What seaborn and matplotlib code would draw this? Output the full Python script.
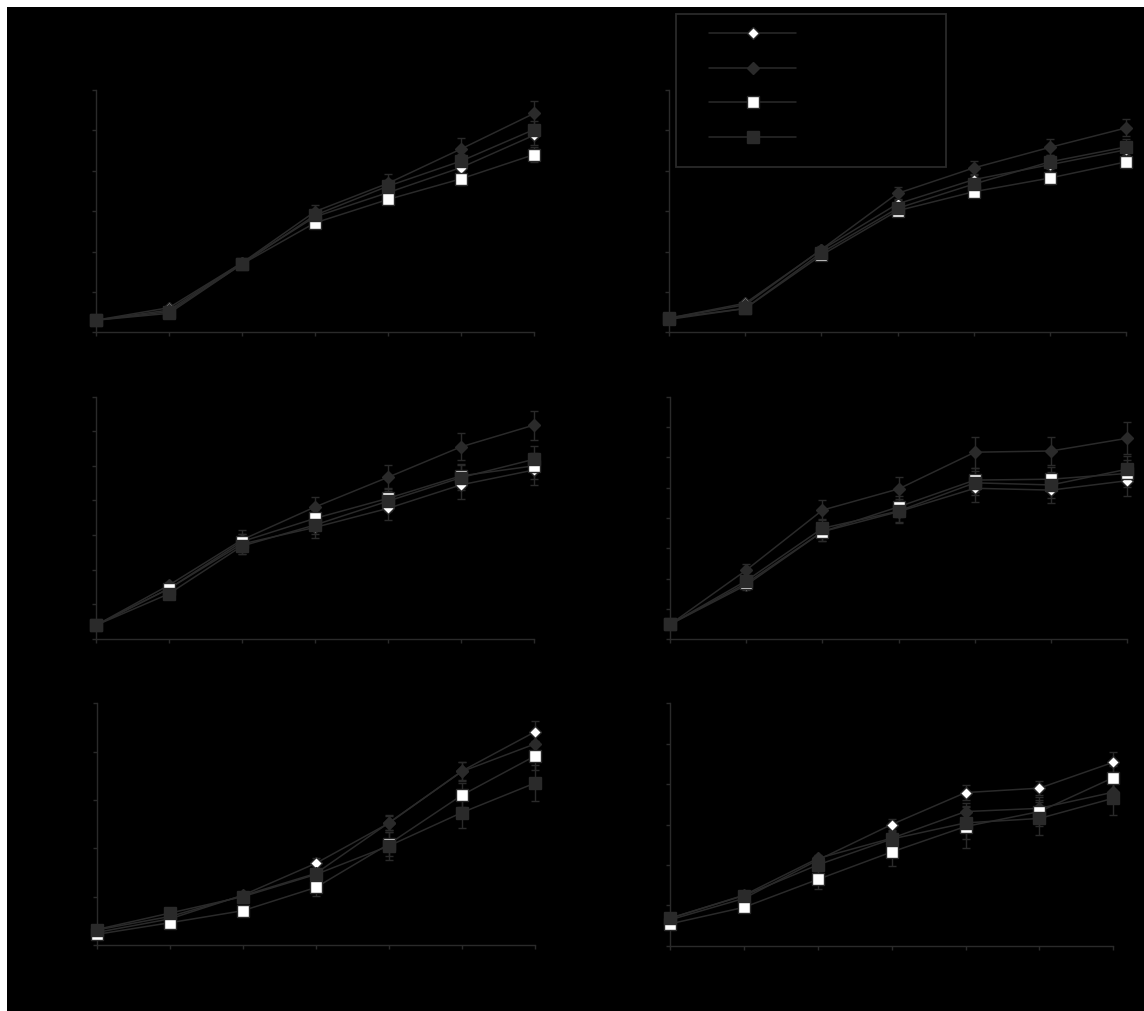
import matplotlib
matplotlib.use("Agg")
import matplotlib.pyplot as plt
from matplotlib.patches import Rectangle
import numpy as np
import pandas as pd
import seaborn as sns

# Sampling days shared by every panel
days = [0, 1, 2, 3, 4, 5, 6]

# Treatment groups and their marker styles
groups = ["Control", "Treatment 1", "Treatment 2", "Treatment 3"]

# Panel (a)
a_ctrl = [0.30, 0.61, 1.72, 2.86, 3.46, 4.08, 4.88]
a_t1 = [0.30, 0.55, 1.72, 2.99, 3.69, 4.54, 5.42]
a_t2 = [0.30, 0.51, 1.69, 2.71, 3.29, 3.80, 4.40]
a_t3 = [0.30, 0.47, 1.69, 2.90, 3.62, 4.24, 5.02]
a_ctrl_sd = [0.03, 0.04, 0.08, 0.10, 0.15, 0.20, 0.25]
a_t1_sd = [0.03, 0.04, 0.08, 0.15, 0.24, 0.26, 0.31]
a_t2_sd = [0.03, 0.04, 0.07, 0.10, 0.12, 0.15, 0.18]
a_t3_sd = [0.03, 0.04, 0.08, 0.12, 0.15, 0.18, 0.22]

# Panel (b)
b_ctrl = [0.35, 0.72, 2.04, 3.18, 3.78, 4.15, 4.52]
b_t1 = [0.35, 0.68, 2.05, 3.44, 4.07, 4.58, 5.06]
b_t2 = [0.32, 0.59, 1.91, 3.01, 3.48, 3.82, 4.22]
b_t3 = [0.35, 0.59, 1.97, 3.07, 3.67, 4.22, 4.59]
b_ctrl_sd = [0.03, 0.05, 0.08, 0.12, 0.15, 0.18, 0.20]
b_t1_sd = [0.03, 0.05, 0.08, 0.16, 0.17, 0.20, 0.21]
b_t2_sd = [0.03, 0.04, 0.07, 0.10, 0.12, 0.14, 0.16]
b_t3_sd = [0.03, 0.04, 0.08, 0.12, 0.15, 0.17, 0.20]

# Panel (c)
c_ctrl = [0.39, 1.45, 2.74, 3.22, 3.77, 4.45, 4.88]
c_t1 = [0.39, 1.55, 2.86, 3.81, 4.67, 5.55, 6.18]
c_t2 = [0.39, 1.45, 2.81, 3.48, 4.06, 4.71, 5.00]
c_t3 = [0.39, 1.30, 2.68, 3.29, 3.98, 4.66, 5.19]
c_ctrl_sd = [0.03, 0.10, 0.30, 0.30, 0.34, 0.40, 0.43]
c_t1_sd = [0.03, 0.10, 0.28, 0.28, 0.34, 0.39, 0.42]
c_t2_sd = [0.03, 0.08, 0.22, 0.25, 0.30, 0.35, 0.38]
c_t3_sd = [0.03, 0.08, 0.22, 0.25, 0.30, 0.35, 0.38]

# Panel (d)
d_ctrl = [0.49, 1.79, 3.55, 4.21, 4.98, 4.92, 5.23]
d_t1 = [0.49, 2.28, 4.26, 4.96, 6.17, 6.21, 6.63]
d_t2 = [0.49, 1.85, 3.55, 4.37, 5.25, 5.28, 5.47]
d_t3 = [0.49, 1.93, 3.66, 4.23, 5.16, 5.09, 5.61]
d_ctrl_sd = [0.03, 0.15, 0.30, 0.35, 0.44, 0.44, 0.50]
d_t1_sd = [0.03, 0.20, 0.33, 0.39, 0.51, 0.47, 0.53]
d_t2_sd = [0.03, 0.15, 0.30, 0.35, 0.40, 0.40, 0.45]
d_t3_sd = [0.03, 0.15, 0.30, 0.40, 0.40, 0.42, 0.45]

# Panel (e)
e_ctrl = [0.26, 0.54, 1.03, 1.69, 2.52, 3.60, 4.41]
e_t1 = [0.31, 0.59, 1.02, 1.48, 2.53, 3.59, 4.16]
e_t2 = [0.22, 0.46, 0.71, 1.19, 2.09, 3.10, 3.91]
e_t3 = [0.32, 0.66, 1.00, 1.46, 2.05, 2.74, 3.35]
e_ctrl_sd = [0.02, 0.03, 0.05, 0.10, 0.15, 0.18, 0.22]
e_t1_sd = [0.02, 0.03, 0.05, 0.10, 0.15, 0.19, 0.20]
e_t2_sd = [0.02, 0.03, 0.05, 0.18, 0.25, 0.25, 0.30]
e_t3_sd = [0.02, 0.03, 0.05, 0.12, 0.29, 0.31, 0.37]

# Panel (f)
f_ctrl = [0.64, 1.17, 2.12, 3.00, 3.79, 3.90, 4.54]
f_t1 = [0.68, 1.25, 2.16, 2.66, 3.32, 3.40, 3.80]
f_t2 = [0.54, 0.95, 1.64, 2.32, 2.95, 3.32, 4.16]
f_t3 = [0.68, 1.24, 2.00, 2.64, 3.04, 3.15, 3.65]
f_ctrl_sd = [0.03, 0.05, 0.08, 0.13, 0.19, 0.18, 0.25]
f_t1_sd = [0.03, 0.05, 0.08, 0.15, 0.20, 0.20, 0.25]
f_t2_sd = [0.03, 0.10, 0.24, 0.34, 0.52, 0.35, 0.30]
f_t3_sd = [0.03, 0.08, 0.15, 0.20, 0.40, 0.40, 0.41]

# y-axis maxima (ticks every 1 unit)
y_max = [6, 6, 7, 8, 5, 6]

panels = [
    ([a_ctrl, a_t1, a_t2, a_t3], [a_ctrl_sd, a_t1_sd, a_t2_sd, a_t3_sd]),
    ([b_ctrl, b_t1, b_t2, b_t3], [b_ctrl_sd, b_t1_sd, b_t2_sd, b_t3_sd]),
    ([c_ctrl, c_t1, c_t2, c_t3], [c_ctrl_sd, c_t1_sd, c_t2_sd, c_t3_sd]),
    ([d_ctrl, d_t1, d_t2, d_t3], [d_ctrl_sd, d_t1_sd, d_t2_sd, d_t3_sd]),
    ([e_ctrl, e_t1, e_t2, e_t3], [e_ctrl_sd, e_t1_sd, e_t2_sd, e_t3_sd]),
    ([f_ctrl, f_t1, f_t2, f_t3], [f_ctrl_sd, f_t1_sd, f_t2_sd, f_t3_sd]),
]

INK = "#2a2a2a"
styles = [
    dict(marker="D", markersize=6.0, markerfacecolor="white", markeredgecolor=INK),
    dict(marker="D", markersize=6.6, markerfacecolor=INK, markeredgecolor=INK),
    dict(marker="s", markersize=8.4, markerfacecolor="white", markeredgecolor=INK),
    dict(marker="s", markersize=9.0, markerfacecolor=INK, markeredgecolor=INK),
]

sns.set_theme(style="ticks")
plt.rcParams.update({
    "font.family": ["DejaVu Sans"],
    "axes.edgecolor": INK,
    "axes.linewidth": 1.0,
    "xtick.color": INK,
    "ytick.color": INK,
    "xtick.labelcolor": "black",
    "ytick.labelcolor": "black",
    "xtick.major.size": 3,
    "ytick.major.size": 3,
    "xtick.major.width": 1.0,
    "ytick.major.width": 1.0,
})

W, H = 1144, 1011
fig = plt.figure(figsize=(W / 100, H / 100), dpi=100)
fig.patch.set_facecolor("black")
# thin light strips along the top and left edges
fig.add_artist(Rectangle((0, 1 - 7 / H), 1, 7 / H, transform=fig.transFigure,
                         facecolor="white", edgecolor="none", zorder=-5))
fig.add_artist(Rectangle((0, 0), 7 / W, 1, transform=fig.transFigure,
                         facecolor="white", edgecolor="none", zorder=-5))

# axes boxes in pixels: left, right, top, bottom
boxes = [
    (96, 534, 90, 332.3),
    (669, 1126, 90, 332.3),
    (96, 534, 396.7, 638.7),
    (670, 1127.3, 396.7, 639.3),
    (96.7, 535, 703.3, 945),
    (670, 1113.3, 703.3, 945.7),
]

axes = []
for (l, r, t, b) in boxes:
    ax = fig.add_axes([l / W, (H - b) / H, (r - l) / W, (b - t) / H])
    ax.set_facecolor("none")
    axes.append(ax)

for i, (ax, (series, errs)) in enumerate(zip(axes, panels)):
    for name, vals, sd, st in zip(groups, series, errs, styles):
        ax.errorbar(days, vals, yerr=sd, fmt="none", ecolor=INK, elinewidth=1.0,
                    capsize=3, capthick=1.0, clip_on=False, zorder=2)
        df = pd.DataFrame({"day": days, "value": vals})
        sns.lineplot(data=df, x="day", y="value", ax=ax, color=INK, linewidth=1.1,
                     markeredgewidth=1.0, clip_on=False, label=name,
                     errorbar=None, zorder=3, **st)
    ax.set_xlim(0, 6)
    ax.set_ylim(0, y_max[i])
    ax.set_xticks(days)
    ax.set_yticks(range(0, y_max[i] + 1))
    ax.tick_params(labelsize=10, colors=INK, labelcolor="black")
    ax.set_xlabel("Days", color="black")
    ax.set_ylabel("Value", color="black")
    sns.despine(ax=ax)
    leg = ax.get_legend()
    if leg is not None:
        leg.remove()

handles, labels = axes[0].get_legend_handles_labels()
fs = 11
leg = fig.legend(handles, labels, loc="upper left",
                 bbox_to_anchor=(709 / W, 1 - 26 / H), frameon=False,
                 fontsize=fs, handlelength=5.7, labelspacing=1.3,
                 borderpad=0, borderaxespad=0, handletextpad=0.8)
for txt in leg.get_texts():
    txt.set_color("black")
# legend box outline
fig.add_artist(Rectangle((676 / W, 1 - 167 / H), 270 / W, 153 / H,
                         transform=fig.transFigure, facecolor="none",
                         edgecolor=INK, linewidth=1.3, zorder=5))

fig.savefig("out.png", dpi=100, facecolor=fig.get_facecolor())
